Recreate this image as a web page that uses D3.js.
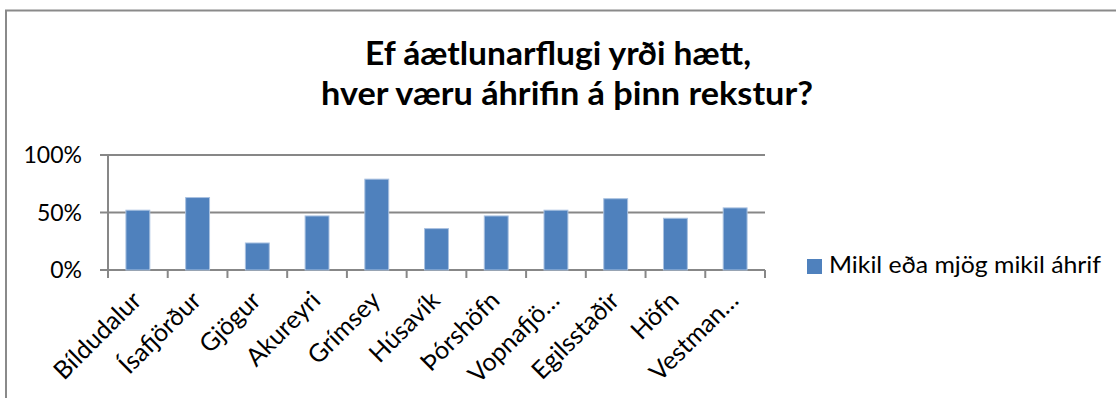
<!DOCTYPE html>
<html>
<head>
<meta charset="utf-8">
<script src="https://cdn.jsdelivr.net/npm/d3@7"></script>
<style>
  html, body { margin: 0; padding: 0; background: #fff; }
  svg { display: block; }
  text { font-family: Lato, "Open Sans", sans-serif; fill: #000; }
</style>
</head>
<body>
<svg id="chart" width="1116" height="398"></svg>
<script>
// Airports surveyed
const categories = ["Bíldudalur", "Ísafjörður", "Gjögur", "Akureyri", "Grímsey", "Húsavík",
  "Þórshöfn", "Vopnafjö…", "Egilsstaðir", "Höfn", "Vestman…"];
// Share answering "Mikil eða mjög mikil áhrif"
const values = [0.52, 0.63, 0.235, 0.47, 0.79, 0.36, 0.47, 0.52, 0.62, 0.45, 0.54];
const yTicks = [0, 0.5, 1];
const seriesName = "Mikil eða mjög mikil áhrif";
const titleLines = ["Ef áætlunarflugi yrði hætt,", "hver væru áhrifin á þinn rekstur?"];

const svg = d3.select("#chart");
const plot = { left: 108, right: 765, top: 155, bottom: 270 };
const barColor = "#4F81BD";
const gridColor = "#878787";

// Outer chart frame
svg.append("rect")
  .attr("x", 6).attr("y", 10.5)
  .attr("width", 1120).attr("height", 400)
  .attr("fill", "none").attr("stroke", "#8a8a8a").attr("stroke-width", 2);

// Title
svg.append("text").attr("x", 558).attr("y", 65).attr("text-anchor", "middle")
  .attr("font-size", 33).attr("font-weight", "bold")
  .attr("textLength", 386).attr("lengthAdjust", "spacingAndGlyphs")
  .text(titleLines[0]);
svg.append("text").attr("x", 567).attr("y", 105).attr("text-anchor", "middle")
  .attr("font-size", 33).attr("font-weight", "bold")
  .attr("textLength", 492).attr("lengthAdjust", "spacingAndGlyphs")
  .text(titleLines[1]);

const x = d3.scaleBand().domain(categories)
  .range([plot.left, plot.right]).paddingInner(0.6).paddingOuter(0.3);
const y = d3.scaleLinear().domain([0, 1]).range([plot.bottom, plot.top]);

// Horizontal gridlines
svg.append("g").selectAll("line").data(yTicks).join("line")
  .attr("x1", plot.left - 8).attr("x2", plot.right)
  .attr("y1", d => y(d)).attr("y2", d => y(d))
  .attr("stroke", gridColor).attr("stroke-width", 2);

// Y axis line
svg.append("line")
  .attr("x1", plot.left).attr("x2", plot.left)
  .attr("y1", y(1)).attr("y2", y(0) + 8)
  .attr("stroke", gridColor).attr("stroke-width", 2);

// Category boundary ticks
const step = x.step();
const boundaries = d3.range(categories.length + 1).map(i => plot.left + i * step);
svg.append("g").selectAll("line").data(boundaries).join("line")
  .attr("x1", d => d).attr("x2", d => d)
  .attr("y1", y(0)).attr("y2", y(0) + 8)
  .attr("stroke", gridColor).attr("stroke-width", 2);

// Y tick labels
svg.append("g").selectAll("text").data(yTicks).join("text")
  .attr("x", 82).attr("y", d => y(d)).attr("dy", "0.36em")
  .attr("text-anchor", "end").attr("font-size", 23)
  .text(d => d3.format(".0%")(d));

// Bars
svg.append("g").selectAll("rect").data(values).join("rect")
  .attr("x", (d, i) => x(categories[i]))
  .attr("y", d => y(d))
  .attr("width", x.bandwidth())
  .attr("height", d => y(0) - y(d))
  .attr("fill", barColor)
  .attr("stroke", "#a9c1e0").attr("stroke-width", 1);

// Rotated category labels
svg.append("g").selectAll("text").data(categories).join("text")
  .attr("transform", d => `translate(${x(d) + x.bandwidth() / 2 + 5},${y(0) + 32}) rotate(-45)`)
  .attr("text-anchor", "end").attr("font-size", 25)
  .text(d => d);

// Legend
svg.append("rect").attr("x", 807).attr("y", 259).attr("width", 15).attr("height", 15)
  .attr("fill", barColor);
svg.append("text").attr("x", 829).attr("y", 273)
  .attr("font-size", 23).attr("textLength", 272).attr("lengthAdjust", "spacingAndGlyphs")
  .text(seriesName);
</script>
</body>
</html>
